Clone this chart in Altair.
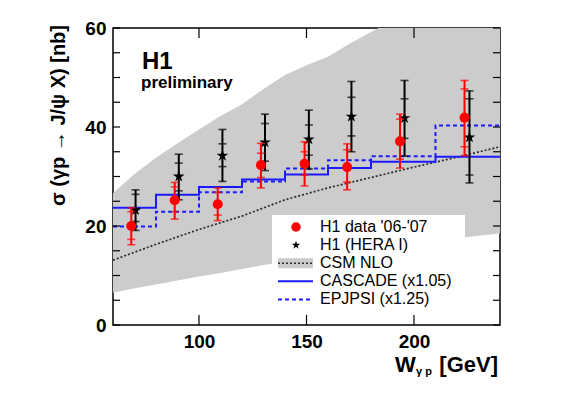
import altair as alt
import pandas as pd

# ---------------- data ----------------
bin_edges = [60, 80, 100, 120, 140, 160, 180, 210, 240]
cascade = [23.7, 26.3, 27.9, 29.4, 30.4, 31.7, 33.0, 34.0]
epjpsi = [19.9, 22.9, 26.8, 29.0, 31.6, 33.3, 34.1, 40.3]

csm_w = [60, 80, 100, 120, 140, 160, 180, 200, 220, 240]
csm_sigma = [13.1, 16.3, 19.3, 22.0, 25.3, 27.7, 29.8, 31.9, 33.9, 36.0]

band_w = [60, 70, 80, 90, 100, 110, 120, 130, 140, 150, 160, 170, 180, 190, 200, 220, 240]
band_hi = [26.6, 30.5, 33.8, 36.7, 39.5, 42.2, 44.6, 47.7, 50.5, 52.5, 54.2, 56.8, 59.2, 61.5, 63.5, 67.0, 70.0]
band_lo = [6.5, 7.4, 8.2, 9.0, 9.8, 10.5, 11.3, 12.1, 12.8, 13.5, 14.2, 14.9, 15.5, 16.1, 16.7, 17.6, 18.5]

red_w = [68.5, 88.7, 108.7, 128.8, 149.1, 168.9, 193.5, 223.5]
red_sigma = [20.0, 25.2, 24.4, 32.3, 32.6, 31.9, 37.1, 41.9]
red_tot_lo = [16.2, 21.4, 21.1, 27.7, 28.1, 27.3, 31.7, 34.2]
red_tot_hi = [23.7, 28.8, 27.7, 36.7, 37.0, 36.6, 42.6, 49.4]
red_stat_lo = [17.3, 22.9, 22.2, 29.8, 30.3, 28.9, 33.5, 36.0]
red_stat_hi = [22.9, 27.9, 26.8, 34.7, 35.0, 35.4, 41.6, 47.7]

blk_w = [70.5, 90.6, 110.9, 130.7, 151.1, 170.9, 195.6, 225.8]
blk_sigma = [23.2, 30.0, 34.2, 36.9, 37.5, 42.1, 41.8, 37.9]
blk_tot_lo = [19.1, 25.3, 29.0, 31.2, 31.5, 35.0, 34.1, 28.7]
blk_tot_hi = [27.3, 34.5, 39.5, 42.6, 43.4, 49.2, 49.4, 47.3]
blk_stat_lo = [20.9, 27.1, 32.0, 33.1, 34.3, 38.2, 37.7, 30.3]
blk_stat_hi = [26.4, 32.7, 36.6, 40.7, 40.4, 46.0, 45.7, 45.7]

y_ticks_minor = list(range(0, 61, 5))
y_tick_labels = [0, 20, 40, 60]
x_tick_labels = [100, 150, 200]

legend_labels = ["H1 data '06-'07", "H1 (HERA I)", "CSM NLO", "CASCADE (x1.05)", "EPJPSI (x1.25)"]

# ---------------- layout ----------------
W, H = 387, 297
FONT = "Liberation Sans"
BLUE = "#1a1aff"
RED = "#ff0000"
STAR = ("M0,-1L0.2245,-0.309L0.951,-0.309L0.363,0.118L0.588,0.809L0,0.382"
        "L-0.588,0.809L-0.363,0.118L-0.951,-0.309L-0.2245,-0.309Z")

xs = alt.Scale(domain=[60, 240], nice=False, zero=False)
ys = alt.Scale(domain=[0, 60], nice=False)
xax = alt.Axis(values=x_tick_labels, title=None, ticks=False, domain=False, grid=False,
               labelFont=FONT, labelFontWeight="bold", labelFontSize=19, labelColor="black",
               labelPadding=7)
yax = alt.Axis(values=y_tick_labels, title=None, ticks=False, domain=False, grid=False,
               labelFont=FONT, labelFontWeight="bold", labelFontSize=19, labelColor="black",
               labelPadding=7)


def X(f):
    return alt.X(f, type="quantitative", scale=xs, axis=xax)


def Y(f):
    return alt.Y(f, type="quantitative", scale=ys, axis=yax)


one = pd.DataFrame({"a": [0]})

band_df = pd.DataFrame({"w": band_w, "lo": band_lo, "hi": band_hi})
band = alt.Chart(band_df).mark_area(color="#cccccc", clip=True).encode(
    x=X("w"), y=Y("lo"), y2="hi")

# white legend box (hides the band)
leg_box = alt.Chart(one).mark_rect(color="white").encode(
    x=alt.value(159), x2=alt.value(352), y=alt.value(187), y2=alt.value(283))

csm_df = pd.DataFrame({"w": csm_w, "s": csm_sigma})
csm = alt.Chart(csm_df).mark_line(color="#2a2a2a", strokeDash=[2, 2], strokeWidth=1.7).encode(
    x=X("w"), y=Y("s"))

cas_df = pd.DataFrame({"w": bin_edges, "s": cascade + [cascade[-1]]})
cas = alt.Chart(cas_df).mark_line(color=BLUE, strokeWidth=2, interpolate="step-after").encode(
    x=X("w"), y=Y("s"))

epj_df = pd.DataFrame({"w": bin_edges, "s": epjpsi + [epjpsi[-1]]})
epj = alt.Chart(epj_df).mark_line(color=BLUE, strokeWidth=2, strokeDash=[4, 3],
                                  interpolate="step-after").encode(x=X("w"), y=Y("s"))


def points_layers(wv, sv, tlo, thi, slo, shi, color, shape, size):
    df = pd.DataFrame({"w": wv, "s": sv, "tlo": tlo, "thi": thi})
    caps = pd.DataFrame({"w": wv * 4, "c": tlo + thi + slo + shi})
    bars = alt.Chart(df).mark_rule(color=color, strokeWidth=2).encode(
        x=X("w"), y=Y("tlo"), y2="thi")
    tk = alt.Chart(caps).mark_tick(color=color, orient="horizontal", size=8, thickness=1.6).encode(
        x=X("w"), y=Y("c"))
    pts = alt.Chart(df).mark_point(color=color, filled=True, opacity=1, shape=shape, size=size).encode(
        x=X("w"), y=Y("s"))
    return [bars, tk, pts]


blk_layers = points_layers(blk_w, blk_sigma, blk_tot_lo, blk_tot_hi, blk_stat_lo, blk_stat_hi,
                           "black", STAR, 150)
red_layers = points_layers(red_w, red_sigma, red_tot_lo, red_tot_hi, red_stat_lo, red_stat_hi,
                           RED, "circle", 100)

# inward ticks
yt_df = pd.DataFrame({"v": y_ticks_minor})
xt_df = pd.DataFrame({"v": x_tick_labels})
yt_l = alt.Chart(yt_df).mark_rule(color="black", strokeWidth=1.2).encode(
    y=Y("v"), x=alt.value(0), x2=alt.value(7))
yt_r = alt.Chart(yt_df).mark_rule(color="black", strokeWidth=1.2).encode(
    y=Y("v"), x=alt.value(W - 7), x2=alt.value(W))
xt_b = alt.Chart(xt_df).mark_rule(color="black", strokeWidth=1.2).encode(
    x=X("v"), y=alt.value(H - 10), y2=alt.value(H))
xt_t = alt.Chart(xt_df).mark_rule(color="black", strokeWidth=1.2).encode(
    x=X("v"), y=alt.value(0), y2=alt.value(10))

# legend
row0, row_h = 199, 18.1
rows = [row0 + row_h * i for i in range(len(legend_labels))]
sym_x0, sym_x1, sym_xc, txt_x = 165, 200, 183, 207
leg_layers = [
    alt.Chart(one).mark_point(color=RED, filled=True, opacity=1, shape="circle", size=90).encode(
        x=alt.value(sym_xc), y=alt.value(rows[0])),
    alt.Chart(one).mark_point(color="black", filled=True, opacity=1, shape=STAR, size=80).encode(
        x=alt.value(sym_xc), y=alt.value(rows[1])),
    alt.Chart(one).mark_rect(color="#cccccc").encode(
        x=alt.value(sym_x0), x2=alt.value(sym_x1), y=alt.value(rows[2] - 5), y2=alt.value(rows[2] + 5)),
    alt.Chart(one).mark_rule(color="#2a2a2a", strokeDash=[2, 2], strokeWidth=1.4).encode(
        x=alt.value(sym_x0), x2=alt.value(sym_x1), y=alt.value(rows[2])),
    alt.Chart(one).mark_rule(color=BLUE, strokeWidth=2).encode(
        x=alt.value(sym_x0), x2=alt.value(sym_x1), y=alt.value(rows[3])),
    alt.Chart(one).mark_rule(color=BLUE, strokeWidth=2, strokeDash=[4, 3]).encode(
        x=alt.value(sym_x0), x2=alt.value(sym_x1), y=alt.value(rows[4])),
]
leg_txt_df = pd.DataFrame({"label": legend_labels, "ry": rows})
leg_text = alt.Chart(leg_txt_df).mark_text(align="left", baseline="middle", font=FONT,
                                           fontSize=16, color="black").encode(
    x=alt.value(txt_x), y=alt.Y("ry:Q", scale=None), text="label:N")

# annotations
h1 = alt.Chart(one).mark_text(text="H1", align="left", baseline="alphabetic", font=FONT,
                              fontWeight="bold", fontSize=24, color="black").encode(
    x=alt.value(29), y=alt.value(41))
prelim = alt.Chart(one).mark_text(text="preliminary", align="left", baseline="alphabetic", font=FONT,
                                  fontWeight="bold", fontSize=17, color="black").encode(
    x=alt.value(28), y=alt.value(60))

# axis titles
xt1 = alt.Chart(one).mark_text(text="W", align="left", baseline="alphabetic", font=FONT,
                               fontWeight="bold", fontSize=22, color="black").encode(
    x=alt.value(282), y=alt.value(344))
xt2 = alt.Chart(one).mark_text(text="γ p", align="left", baseline="alphabetic", font=FONT,
                               fontWeight="bold", fontSize=11, color="black").encode(
    x=alt.value(303), y=alt.value(347))
xt3 = alt.Chart(one).mark_text(text="[GeV]", align="right", baseline="alphabetic", font=FONT,
                               fontWeight="bold", fontSize=22, color="black").encode(
    x=alt.value(385), y=alt.value(344))
ytitle = alt.Chart(one).mark_text(text="σ (γp → J/ψ X) [nb]", align="right", baseline="middle",
                                  angle=270, font=FONT, fontWeight="bold", fontSize=20,
                                  color="black").encode(x=alt.value(-54), y=alt.value(-3))

chart = alt.layer(
    band, leg_box, csm, cas, epj, *blk_layers, *red_layers,
    yt_l, yt_r, xt_b, xt_t, *leg_layers, leg_text, h1, prelim, xt1, xt2, xt3, ytitle
).properties(
    width=W, height=H,
    autosize=alt.AutoSizeParams(type="none"),
    padding={"left": 105, "top": 20, "right": 50, "bottom": 55},
    background="white",
).configure_view(stroke="black", strokeWidth=1.5)

chart.save("out.html", embed_options={"renderer": "svg", "actions": False})
